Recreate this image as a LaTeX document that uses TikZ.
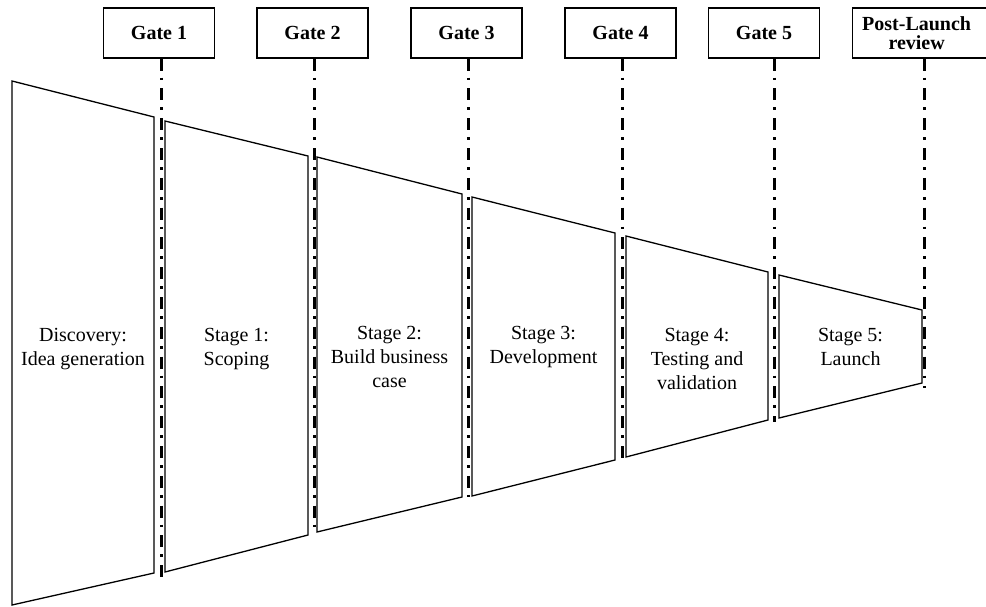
\documentclass[tikz,border=0pt]{standalone}
\usepackage{fontspec}
\setmainfont{Liberation Serif}
\begin{document}
\begin{tikzpicture}[x=1pt,y=-1pt,
  gatebox/.style={draw,line width=1.3pt,minimum width=111pt,minimum height=50pt,
    inner sep=0pt,font=\fontsize{20}{19.5}\selectfont\bfseries,align=center},
  gateline/.style={line width=3pt,dash pattern=on 12pt off 7pt on 2.8pt off 8pt},
  stagebox/.style={draw,line width=1.3pt,line join=miter},
  stagetext/.style={font=\fontsize{20}{24}\selectfont,align=center,anchor=north,inner sep=0pt}]
\clip (0,0) rectangle (986,606);
\fill[white] (0,0) rectangle (986,606);

% gate boxes along the top
\node[gatebox] (g1) at (159,33) {Gate 1};
\node[gatebox] (g2) at (312.5,33) {Gate 2};
\node[gatebox] (g3) at (466.5,33) {Gate 3};
\node[gatebox] (g4) at (620.5,33) {Gate 4};
\node[gatebox] (g5) at (764,33) {Gate 5};
\node[gatebox,minimum width=148pt,anchor=west] (g6) at (852,33) {\hspace*{-20pt}Post-Launch\\\hspace*{-20pt}review};

% lower ends of the gate lines
\coordinate (e1) at (161,577);
\coordinate (e2) at (314,533);
\coordinate (e3) at (468,497);
\coordinate (e4) at (622,460);
\coordinate (e5) at (774,422);
\coordinate (e6) at (924,388);

% stage trapezoids
\draw[stagebox] (12,81) -- (154,117) -- (154,573) -- (12,605) -- cycle;
\draw[stagebox] (165,121) -- (308,156) -- (308,535) -- (165,572) -- cycle;
\draw[stagebox] (317,157) -- (462,194) -- (462,497) -- (317,532) -- cycle;
\draw[stagebox] (472,197) -- (615,233) -- (615,460) -- (472,496) -- cycle;
\draw[stagebox] (626,236) -- (768,272) -- (768,420) -- (626,457) -- cycle;
\draw[stagebox] (779,275) -- (922,310) -- (922,383) -- (779,418) -- cycle;

% dash-dot gate lines
\draw[gateline] (g1.south -| e1) -- (e1);
\draw[gateline] (g2.south -| e2) -- (e2);
\draw[gateline] (g3.south -| e3) -- (e3);
\draw[gateline] (g4.south -| e4) -- (e4);
\draw[gateline] (g5.south -| e5) -- (e5);
\draw[gateline] (g6.south -| e6) -- (e6);

% stage labels
\node[stagetext] (t0) at (83,328) {Discovery:\\Idea generation};
\node[stagetext] (t1) at (236.5,328) {Stage 1:\\Scoping};
\node[stagetext] (t2) at (389.5,326) {Stage 2:\\Build business\\case};
\node[stagetext] (t3) at (543.5,326) {Stage 3:\\Development};
\node[stagetext] (t4) at (697,328) {Stage 4:\\Testing and\\validation};
\node[stagetext] (t5) at (850.5,328) {Stage 5:\\Launch};
\end{tikzpicture}
\end{document}
